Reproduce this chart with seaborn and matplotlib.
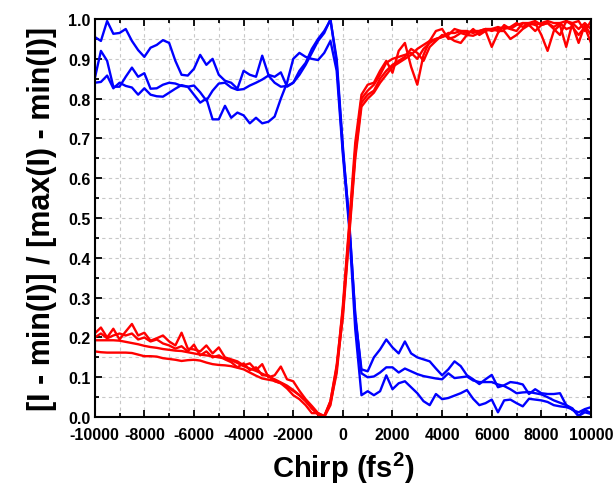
import numpy as np
import pandas as pd
import seaborn as sns
import matplotlib.pyplot as plt
from matplotlib.ticker import MultipleLocator, FormatStrFormatter

# chirp scan positions (fs^2)
chirp = [-10000, -9750, -9500, -9250, -9000, -8750, -8500, -8250, -8000, -7750,
         -7500, -7250, -7000, -6750, -6500, -6250, -6000, -5750, -5500, -5250,
         -5000, -4750, -4500, -4250, -4000, -3750, -3500, -3250, -3000, -2750,
         -2500, -2250, -2000, -1750, -1500, -1250, -1000, -750,
         -500, -250, 0, 250, 500, 750,
         1000, 1250, 1500, 1750, 2000, 2250, 2500, 2750, 3000, 3250,
         3500, 3750, 4000, 4250, 4500, 4750, 5000, 5250, 5500, 5750,
         6000, 6250, 6500, 6750, 7000, 7250, 7500, 7750, 8000, 8250,
         8500, 8750, 9000, 9250, 9500, 9750, 10000]

# normalised intensity, blue runs
blue_1 = [0.955, 0.945, 0.995, 0.963, 0.965, 0.975, 0.945, 0.922, 0.905, 0.928,
          0.935, 0.947, 0.94, 0.895, 0.86, 0.858, 0.875, 0.91, 0.885, 0.90,
          0.86, 0.845, 0.84, 0.825, 0.87, 0.86, 0.855, 0.908, 0.86, 0.855,
          0.866, 0.83, 0.84, 0.87, 0.89, 0.925, 0.95, 0.97,
          0.997, 0.90, 0.68, 0.49, 0.26, 0.11,
          0.10, 0.102, 0.112, 0.125, 0.125, 0.112, 0.122, 0.115, 0.108, 0.103,
          0.10, 0.097, 0.095, 0.11, 0.098, 0.10, 0.102, 0.092, 0.088, 0.088,
          0.088, 0.082, 0.078, 0.07, 0.06, 0.062, 0.063, 0.06, 0.057, 0.05,
          0.042, 0.036, 0.03, 0.018, 0.012, 0.02, 0.025]
blue_2 = [0.85, 0.92, 0.895, 0.83, 0.83, 0.855, 0.878, 0.855, 0.864, 0.825,
          0.826, 0.835, 0.84, 0.838, 0.832, 0.83, 0.833, 0.816, 0.795, 0.82,
          0.838, 0.84, 0.828, 0.822, 0.824, 0.833, 0.84, 0.848, 0.858, 0.84,
          0.83, 0.832, 0.84, 0.86, 0.885, 0.915, 0.945, 0.965,
          1.0, 0.89, 0.67, 0.50, 0.25, 0.12,
          0.115, 0.15, 0.17, 0.195, 0.175, 0.16, 0.19, 0.16, 0.15, 0.145,
          0.14, 0.122, 0.105, 0.12, 0.14, 0.128, 0.105, 0.095, 0.083, 0.095,
          0.106, 0.075, 0.08, 0.088, 0.086, 0.082, 0.058, 0.07, 0.06, 0.058,
          0.058, 0.06, 0.03, 0.022, 0.002, 0.018, 0.01]
blue_3 = [0.84, 0.842, 0.858, 0.826, 0.84, 0.832, 0.828, 0.81, 0.826, 0.81,
          0.806, 0.805, 0.815, 0.825, 0.834, 0.83, 0.81, 0.79, 0.80, 0.748,
          0.748, 0.782, 0.752, 0.765, 0.758, 0.738, 0.752, 0.738, 0.742, 0.755,
          0.80, 0.84, 0.90, 0.915, 0.905, 0.90, 0.897, 0.915,
          0.945, 0.87, 0.66, 0.48, 0.22, 0.055,
          0.065, 0.055, 0.065, 0.105, 0.07, 0.085, 0.09, 0.075, 0.06, 0.04,
          0.03, 0.058, 0.045, 0.048, 0.054, 0.06, 0.068, 0.046, 0.03, 0.035,
          0.044, 0.012, 0.042, 0.044, 0.035, 0.027, 0.046, 0.044, 0.042, 0.038,
          0.03, 0.027, 0.025, 0.02, 0.003, 0.012, 0.008]

# normalised intensity, red runs
red_1 = [0.21, 0.225, 0.2, 0.222, 0.195, 0.215, 0.234, 0.205, 0.212, 0.192,
         0.198, 0.205, 0.19, 0.18, 0.212, 0.172, 0.17, 0.165, 0.18, 0.16,
         0.175, 0.15, 0.145, 0.14, 0.13, 0.135, 0.118, 0.133, 0.10, 0.105,
         0.127, 0.095, 0.09, 0.066, 0.045, 0.028, 0.01, 0.0,
         0.03, 0.12, 0.28, 0.48, 0.69, 0.81,
         0.835, 0.84, 0.87, 0.895, 0.865, 0.92, 0.94, 0.88, 0.835, 0.91,
         0.945, 0.97, 0.975, 0.95, 0.955, 0.965, 0.96, 0.958, 0.965, 0.97,
         0.93, 0.965, 0.985, 0.975, 0.97, 0.99, 0.985, 0.99, 0.96, 0.92,
         0.97, 0.985, 0.93, 0.99, 0.975, 0.99, 0.975]
red_2 = [0.20, 0.21, 0.198, 0.205, 0.21, 0.205, 0.21, 0.195, 0.20, 0.19,
         0.195, 0.185, 0.18, 0.172, 0.178, 0.165, 0.182, 0.155, 0.165, 0.15,
         0.155, 0.145, 0.138, 0.125, 0.135, 0.118, 0.125, 0.105, 0.105, 0.09,
         0.085, 0.072, 0.055, 0.045, 0.03, 0.01, 0.01, 0.003,
         0.04, 0.13, 0.27, 0.47, 0.67, 0.80,
         0.82, 0.835, 0.86, 0.89, 0.90, 0.905, 0.91, 0.915, 0.90, 0.925,
         0.94, 0.95, 0.955, 0.96, 0.975, 0.97, 0.965, 0.97, 0.97, 0.975,
         0.97, 0.975, 0.98, 0.975, 0.985, 0.99, 0.99, 0.985, 0.99, 0.995,
         0.99, 0.99, 0.995, 0.99, 0.995, 0.97, 0.995]
red_3 = [0.193, 0.193, 0.193, 0.193, 0.192, 0.189, 0.186, 0.183, 0.179, 0.176,
         0.174, 0.171, 0.169, 0.167, 0.166, 0.163, 0.16, 0.157, 0.155, 0.153,
         0.15, 0.147, 0.143, 0.136, 0.128, 0.122, 0.116, 0.109, 0.102, 0.095,
         0.087, 0.079, 0.068, 0.055, 0.04, 0.022, 0.008, 0.002,
         0.035, 0.11, 0.26, 0.46, 0.66, 0.79,
         0.81, 0.82, 0.85, 0.87, 0.885, 0.895, 0.905, 0.925, 0.915, 0.895,
         0.93, 0.945, 0.96, 0.955, 0.945, 0.94, 0.96, 0.975, 0.96, 0.97,
         0.975, 0.97, 0.97, 0.95, 0.96, 0.975, 0.985, 0.97, 0.985, 0.99,
         0.975, 0.96, 0.995, 0.985, 0.94, 0.985, 0.96]
red_4 = [0.165, 0.163, 0.162, 0.162, 0.162, 0.162, 0.161, 0.157, 0.153, 0.153,
         0.152, 0.148, 0.146, 0.144, 0.141, 0.143, 0.144, 0.142, 0.137, 0.133,
         0.131, 0.13, 0.128, 0.124, 0.12, 0.112, 0.104, 0.097, 0.094, 0.091,
         0.085, 0.076, 0.066, 0.055, 0.041, 0.022, 0.006, 0.0,
         0.04, 0.125, 0.25, 0.45, 0.65, 0.78,
         0.80, 0.815, 0.84, 0.86, 0.88, 0.89, 0.90, 0.91, 0.925, 0.935,
         0.945, 0.95, 0.955, 0.965, 0.965, 0.97, 0.97, 0.965, 0.97, 0.975,
         0.975, 0.98, 0.975, 0.98, 0.99, 0.98, 0.99, 0.995, 0.985, 0.99,
         0.98, 0.99, 0.975, 0.98, 0.96, 0.98, 0.94]

runs = {'b1': blue_1, 'b2': blue_2, 'b3': blue_3,
        'r1': red_1, 'r2': red_2, 'r3': red_3, 'r4': red_4}
colors = {'b1': '#0000ff', 'b2': '#0000ff', 'b3': '#0000ff',
          'r1': '#ff0000', 'r2': '#ff0000', 'r3': '#ff0000', 'r4': '#ff0000'}

df = pd.concat([pd.DataFrame({'chirp': chirp, 'value': v, 'run': k})
                for k, v in runs.items()], ignore_index=True)

sns.set_style('ticks')
plt.rcParams['font.family'] = ['Liberation Sans', 'DejaVu Sans']
plt.rcParams['font.weight'] = 'bold'
plt.rcParams['axes.unicode_minus'] = False
plt.rcParams['mathtext.fontset'] = 'custom'
plt.rcParams['mathtext.rm'] = 'Liberation Sans:bold'
plt.rcParams['mathtext.bf'] = 'Liberation Sans:bold'
plt.rcParams['text.color'] = 'black'
plt.rcParams['axes.labelcolor'] = 'black'
plt.rcParams['xtick.color'] = 'black'
plt.rcParams['ytick.color'] = 'black'

fig = plt.figure(figsize=(6.15, 4.89), dpi=100)
ax = fig.add_axes([0.154, 0.145, 0.807, 0.814])

sns.lineplot(data=df, x='chirp', y='value', hue='run', palette=colors,
             units='run', estimator=None, legend=False, linewidth=1.7, ax=ax)

ax.set_xlim(-10000, 10000)
ax.set_ylim(0, 1)
ax.xaxis.set_major_locator(MultipleLocator(2000))
ax.xaxis.set_minor_locator(MultipleLocator(1000))
ax.yaxis.set_major_locator(MultipleLocator(0.1))
ax.yaxis.set_minor_locator(MultipleLocator(0.05))
ax.yaxis.set_major_formatter(FormatStrFormatter('%.1f'))

ax.set_axisbelow(True)
ax.grid(True, which='both', linestyle=(0, (3, 3)), color='#c8c8c8', linewidth=0.8)
ax.tick_params(which='both', direction='in', top=True, right=True, width=1.3,
               labelsize=11.5, colors='black')
ax.tick_params(axis='x', pad=7)
ax.tick_params(axis='y', pad=3)
ax.tick_params(which='major', length=5)
ax.tick_params(which='minor', length=3)
for lab in ax.get_xticklabels() + ax.get_yticklabels():
    lab.set_fontweight('bold')
for sp in ax.spines.values():
    sp.set_linewidth(1.5)
    sp.set_color('black')

ax.set_xlabel(r'Chirp (fs$^{\mathbf{2}}$)', fontsize=21, fontweight='bold',
              labelpad=6, color='black')
ax.set_ylabel('[I - min(I)] / [max(I) - min(I)]', fontsize=22, fontweight='bold',
              labelpad=8, color='black')

fig.savefig('out.png', dpi=100)
